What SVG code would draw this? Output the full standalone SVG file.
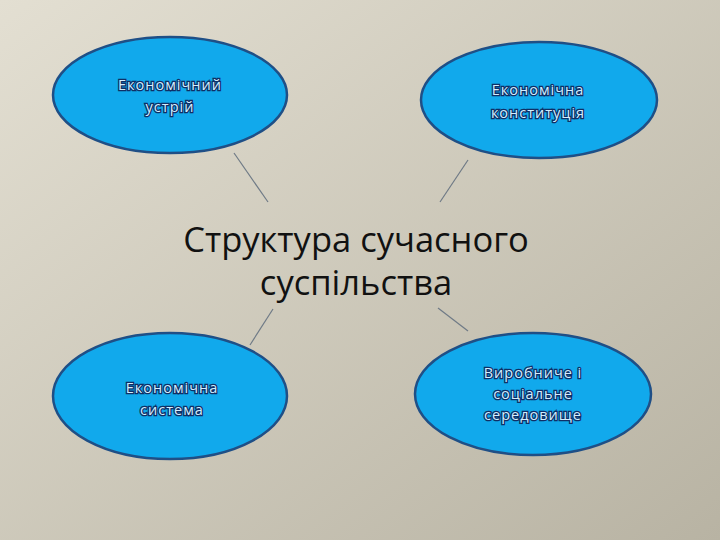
<svg xmlns="http://www.w3.org/2000/svg" width="720" height="540" viewBox="0 0 720 540">
<defs>
<linearGradient id="bg" x1="0" y1="0" x2="1" y2="1">
<stop offset="0" stop-color="#e3dfd2"/>
<stop offset="1" stop-color="#b8b3a3"/>
</linearGradient>
<style>
.node ellipse{fill:#11a9ec;stroke:#1f4f86;stroke-width:2.5}
.lbl{font-family:"Open Sans","DejaVu Sans",sans-serif;font-size:14.5px;letter-spacing:1px;fill:#d2eeff;stroke:#0f2f66;stroke-width:2.6;paint-order:stroke;text-anchor:middle}
.title{font-family:"Open Sans","Liberation Sans",sans-serif;font-size:34.5px;fill:#111;text-anchor:middle}
.conn line{stroke:#6f7a86;stroke-width:1.2}
</style>
</defs>
<rect width="720" height="540" fill="url(#bg)"/>
<g id="connectors" class="conn">
<line x1="234" y1="153" x2="268" y2="202"/>
<line x1="468" y1="160" x2="440" y2="202"/>
<line x1="273" y1="309" x2="250" y2="345"/>
<line x1="438" y1="308" x2="468" y2="331"/>
</g>
<g id="center">
<text class="title" x="356" y="252">Структура сучасного</text>
<text class="title" x="356" y="295">суспільства</text>
</g>
<g id="n1" class="node">
<ellipse cx="170" cy="95" rx="117" ry="58"/>
<text class="lbl" x="170" y="90">Економічний</text>
<text class="lbl" x="170" y="112">устрій</text>
</g>
<g id="n2" class="node">
<ellipse cx="539" cy="100" rx="118" ry="58"/>
<text class="lbl" x="538" y="95">Економічна</text>
<text class="lbl" x="538" y="118">конституція</text>
</g>
<g id="n3" class="node">
<ellipse cx="170" cy="396" rx="117" ry="63"/>
<text class="lbl" x="172" y="393">Економічна</text>
<text class="lbl" x="172" y="415">система</text>
</g>
<g id="n4" class="node">
<ellipse cx="533" cy="394" rx="118" ry="61"/>
<text class="lbl" x="533" y="378">Виробниче і</text>
<text class="lbl" x="533" y="399">соціальне</text>
<text class="lbl" x="533" y="420">середовище</text>
</g>
</svg>
